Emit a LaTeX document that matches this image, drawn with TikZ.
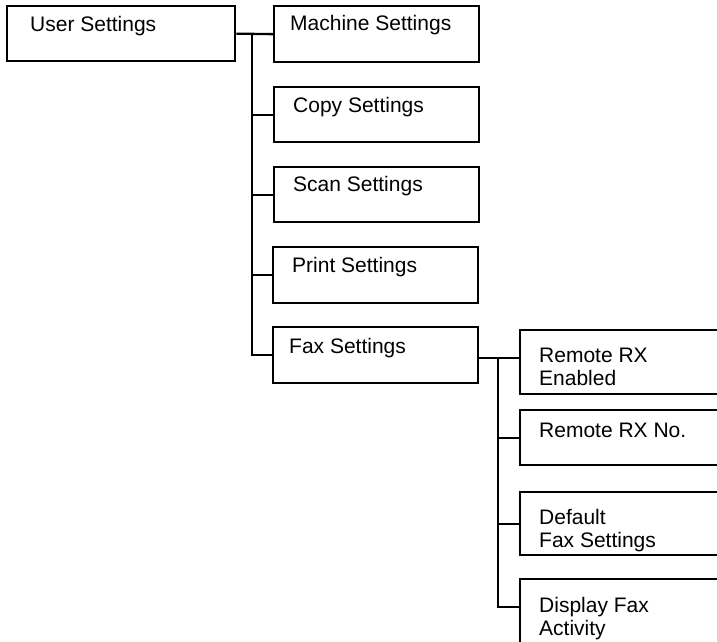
\documentclass[tikz,border=0pt]{standalone}
\usepackage{fontspec}
\setmainfont{Liberation Sans}
\begin{document}
\begin{tikzpicture}[x=1pt,y=-1pt,
  box/.style={draw,line width=2.3pt,inner sep=0pt,anchor=north west,minimum width=#1},
  box/.default=205,
  lbl/.style={anchor=base west,inner sep=0pt,align=left,font=\fontsize{21}{23}\selectfont},
  conn/.style={line width=2.3pt}]
\useasboundingbox (0,0) rectangle (717,641);
\clip (0,0) rectangle (717,641);
% boxes
\node[box=228,minimum height=55] (user) at (6,5) {};
\node[box,minimum height=56] (mach) at (273,5) {};
\node[box,minimum height=55] (copy) at (273,86) {};
\node[box,minimum height=55] (scan) at (273,166) {};
\node[box,minimum height=56] (print) at (272,246) {};
\node[box,minimum height=56] (fax) at (272,326) {};
\node[box=230,minimum height=64] (rxen) at (519,329) {};
\node[box=230,minimum height=55] (rxno) at (519,409) {};
\node[box=230,minimum height=63] (deflt) at (519,491) {};
\node[box=230,minimum height=90] (disp) at (519,578) {};
% labels (base = last line)
\node[lbl] (userT) at (30,31) {User Settings};
\node[lbl] (machT) at (290,30) {Machine Settings};
\node[lbl] (copyT) at (293,112) {Copy Settings};
\node[lbl] (scanT) at (293,191) {Scan Settings};
\node[lbl] (printT) at (292,272) {Print Settings};
\node[lbl] (faxT) at (289,353) {Fax Settings};
\node[lbl] (rxenT) at (539,385) {Remote RX\\Enabled};
\node[lbl] (rxnoT) at (539,437) {Remote RX No.};
\node[lbl] (defltT) at (539,547) {Default\\Fax Settings};
\node[lbl] (dispT) at (539,635) {Display Fax\\Activity};
% connectors
\coordinate (j1) at (252,33);
\coordinate (j2) at (498,358);
\draw[conn] (user.east) -- (mach.west);
\draw[conn] (j1) |- (fax.west);
\draw[conn] (j1 |- copy.west) -- (copy.west);
\draw[conn] (j1 |- scan.west) -- (scan.west);
\draw[conn] (j1 |- print.west) -- (print.west);
\coordinate (dispIn) at ([yshift=-29pt]disp.north west);
\draw[conn] (fax.east |- j2) -- (rxen.west |- j2);
\draw[conn] (j2) |- (dispIn);
\draw[conn] (j2 |- rxno.west) -- (rxno.west);
\draw[conn] (j2 |- deflt.west) -- (deflt.west);
\end{tikzpicture}
\end{document}
